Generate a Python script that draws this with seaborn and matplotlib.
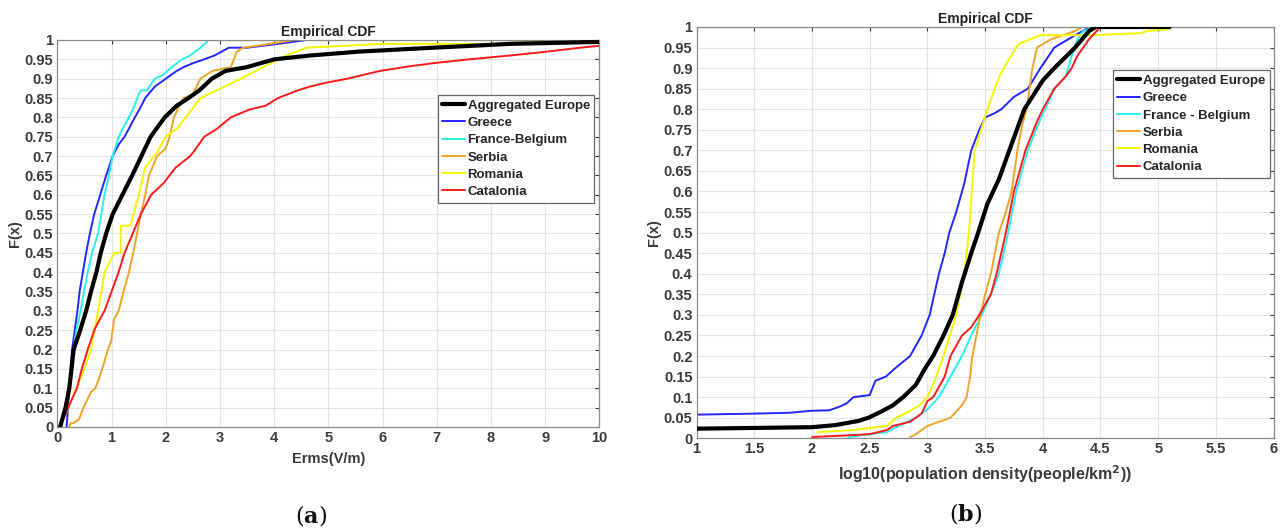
import matplotlib
matplotlib.use("Agg")
import matplotlib.pyplot as plt
import seaborn as sns
import pandas as pd

# ---- data ----
series_names = ["Aggregated Europe", "Greece", "France-Belgium", "Serbia", "Romania", "Catalonia"]
series_names_b = ["Aggregated Europe", "Greece", "France - Belgium", "Serbia", "Romania", "Catalonia"]
series_colors = ["#000000", "#2525ff", "#2af0f0", "#eda528", "#f5f500", "#ff1a1a"]
series_widths = [3.0, 1.4, 1.4, 1.4, 1.4, 1.4]

# panel (a): Erms (V/m)
erms_agg_x = [0.05, 0.15, 0.22, 0.3, 0.42, 0.53, 0.62, 0.72, 0.8, 0.9, 1.02, 1.2, 1.38, 1.55, 1.72, 1.98,
              2.2, 2.42, 2.62, 2.85, 3.1, 3.5, 4.0, 4.67, 5.57, 6.93, 8.36, 10.0]
erms_agg_F = [0, 0.05, 0.1, 0.2, 0.25, 0.3, 0.35, 0.4, 0.45, 0.5, 0.55, 0.6, 0.65, 0.7, 0.75, 0.8,
              0.83, 0.85, 0.87, 0.9, 0.92, 0.93, 0.95, 0.96, 0.97, 0.98, 0.99, 0.995]
erms_gr_x = [0.17, 0.22, 0.27, 0.32, 0.37, 0.41, 0.47, 0.53, 0.6, 0.68, 0.79, 0.9, 1.02, 1.13, 1.24, 1.43,
             1.55, 1.62, 1.8, 2.0, 2.2, 2.33, 2.5, 2.71, 2.9, 3.16, 3.5, 4.07, 4.6, 6.84]
erms_gr_F = [0, 0.1, 0.2, 0.25, 0.3, 0.35, 0.4, 0.45, 0.5, 0.55, 0.6, 0.65, 0.7, 0.73, 0.75, 0.8,
             0.83, 0.85, 0.88, 0.9, 0.92, 0.93, 0.94, 0.95, 0.96, 0.98, 0.98, 0.99, 1.0, 1.0]
erms_fb_x = [0.05, 0.15, 0.25, 0.35, 0.43, 0.49, 0.56, 0.64, 0.75, 0.81, 0.87, 0.95, 1.02, 1.13, 1.2, 1.32,
             1.42, 1.5, 1.54, 1.65, 1.8, 1.95, 2.11, 2.3, 2.45, 2.64, 2.79, 4.05]
erms_fb_F = [0, 0.05, 0.15, 0.25, 0.3, 0.35, 0.4, 0.45, 0.5, 0.55, 0.6, 0.65, 0.7, 0.75, 0.77, 0.8,
             0.83, 0.86, 0.87, 0.87, 0.9, 0.91, 0.93, 0.95, 0.96, 0.98, 1.0, 1.0]
erms_rs_x = [0.22, 0.25, 0.3, 0.4, 0.48, 0.55, 0.62, 0.7, 0.78, 0.85, 0.93, 0.99, 1.05, 1.13, 1.22, 1.32,
             1.4, 1.47, 1.54, 1.62, 1.69, 1.84, 2.0, 2.07, 2.15, 2.25, 2.33, 2.5, 2.64, 2.86, 3.2, 3.31,
             3.43, 3.92, 4.37]
erms_rs_F = [0, 0.01, 0.01, 0.02, 0.05, 0.07, 0.09, 0.1, 0.13, 0.16, 0.2, 0.22, 0.28, 0.3, 0.35, 0.4,
             0.45, 0.5, 0.55, 0.6, 0.65, 0.7, 0.72, 0.75, 0.8, 0.83, 0.85, 0.86, 0.9, 0.92, 0.93, 0.97,
             0.98, 0.99, 1.0]
erms_ro_x = [0.05, 0.2, 0.35, 0.5, 0.62, 0.75, 0.87, 1.05, 1.17, 1.17, 1.35, 1.5, 1.62, 1.84, 2.0, 2.2,
             2.37, 2.64, 3.09, 3.39, 3.8, 4.22, 4.6, 6.02, 8.0, 9.5, 10.0]
erms_ro_F = [0, 0.05, 0.1, 0.15, 0.2, 0.3, 0.4, 0.45, 0.45, 0.52, 0.52, 0.6, 0.67, 0.71, 0.75, 0.77,
             0.8, 0.85, 0.88, 0.9, 0.93, 0.96, 0.98, 0.99, 0.99, 1.0, 1.0]
erms_ca_x = [0.05, 0.2, 0.36, 0.45, 0.56, 0.68, 0.75, 0.87, 1.0, 1.13, 1.24, 1.39, 1.54, 1.73, 1.96, 2.18,
             2.45, 2.56, 2.71, 2.94, 3.2, 3.54, 3.84, 4.07, 4.44, 4.67, 4.97, 5.35, 5.95, 6.4, 6.93, 7.6,
             8.36, 9.04, 9.64, 10.0]
erms_ca_F = [0, 0.05, 0.1, 0.15, 0.2, 0.25, 0.27, 0.3, 0.35, 0.4, 0.45, 0.5, 0.55, 0.6, 0.63, 0.67,
             0.7, 0.72, 0.75, 0.77, 0.8, 0.82, 0.83, 0.85, 0.87, 0.88, 0.89, 0.9, 0.92, 0.93, 0.94, 0.95,
             0.96, 0.97, 0.98, 0.985]

# panel (b): log10 population density
pop_agg_x = [0.9, 2.0, 2.2, 2.4, 2.49, 2.6, 2.7, 2.79, 2.9, 2.98, 3.05, 3.14, 3.22, 3.3, 3.38, 3.44,
             3.52, 3.62, 3.71, 3.84, 4.0, 4.1, 4.28, 4.4, 4.46, 5.1]
pop_agg_F = [0.023, 0.027, 0.032, 0.042, 0.05, 0.065, 0.08, 0.1, 0.13, 0.17, 0.2, 0.25, 0.3, 0.38, 0.45, 0.5,
             0.57, 0.63, 0.7, 0.8, 0.87, 0.9, 0.95, 0.99, 1.0, 1.0]
pop_gr_x = [0.9, 1.5, 1.8, 2.0, 2.15, 2.25, 2.3, 2.36, 2.5, 2.55, 2.64, 2.72, 2.85, 2.95, 3.02, 3.1,
            3.15, 3.19, 3.25, 3.32, 3.38, 3.45, 3.5, 3.58, 3.64, 3.75, 3.87, 3.98, 4.1, 4.28, 4.41]
pop_gr_F = [0.057, 0.06, 0.062, 0.067, 0.068, 0.078, 0.085, 0.1, 0.105, 0.14, 0.15, 0.17, 0.2, 0.25, 0.3, 0.4,
            0.45, 0.5, 0.55, 0.62, 0.7, 0.75, 0.78, 0.79, 0.8, 0.83, 0.85, 0.9, 0.95, 0.98, 1.0]
pop_fb_x = [2.32, 2.5, 2.65, 2.75, 2.9, 3.0, 3.1, 3.2, 3.3, 3.38, 3.47, 3.55, 3.62, 3.7, 3.77, 3.82,
            3.87, 3.97, 4.02, 4.1, 4.2, 4.25, 4.3, 4.35, 4.45]
pop_fb_F = [0.003, 0.01, 0.015, 0.03, 0.05, 0.07, 0.1, 0.15, 0.2, 0.25, 0.3, 0.35, 0.4, 0.5, 0.6, 0.65,
            0.7, 0.77, 0.8, 0.85, 0.88, 0.93, 0.97, 0.99, 1.0]
pop_rs_x = [2.85, 2.9, 3.0, 3.1, 3.2, 3.3, 3.34, 3.37, 3.39, 3.46, 3.5, 3.55, 3.62, 3.68, 3.73, 3.78,
            3.82, 3.86, 3.91, 3.95, 4.07, 4.28, 4.34]
pop_rs_F = [0.003, 0.01, 0.03, 0.04, 0.05, 0.08, 0.1, 0.15, 0.2, 0.3, 0.35, 0.4, 0.5, 0.55, 0.6, 0.7,
            0.76, 0.8, 0.9, 0.95, 0.97, 0.99, 1.0]
pop_ro_x = [2.05, 2.36, 2.5, 2.65, 2.73, 2.84, 2.93, 3.0, 3.05, 3.14, 3.25, 3.32, 3.36, 3.41, 3.52, 3.61,
            3.66, 3.77, 3.8, 3.98, 4.43, 4.85, 4.9, 5.1]
pop_ro_F = [0.015, 0.02, 0.025, 0.03, 0.05, 0.065, 0.08, 0.1, 0.13, 0.2, 0.3, 0.4, 0.5, 0.7, 0.8, 0.87,
            0.9, 0.95, 0.96, 0.98, 0.98, 0.985, 0.99, 0.995]
pop_ca_x = [2.0, 2.15, 2.5, 2.65, 2.7, 2.85, 2.95, 3.0, 3.05, 3.15, 3.2, 3.3, 3.38, 3.45, 3.55, 3.6,
            3.68, 3.75, 3.8, 3.85, 3.95, 4.0, 4.1, 4.2, 4.25, 4.3, 4.4, 4.5]
pop_ca_F = [0.003, 0.005, 0.01, 0.02, 0.03, 0.04, 0.06, 0.09, 0.1, 0.15, 0.2, 0.25, 0.27, 0.3, 0.35, 0.4,
            0.5, 0.6, 0.65, 0.7, 0.77, 0.8, 0.85, 0.88, 0.9, 0.93, 0.97, 1.0]

erms_curves = [(erms_agg_x, erms_agg_F), (erms_gr_x, erms_gr_F), (erms_fb_x, erms_fb_F),
               (erms_rs_x, erms_rs_F), (erms_ro_x, erms_ro_F), (erms_ca_x, erms_ca_F)]
pop_curves = [(pop_agg_x, pop_agg_F), (pop_gr_x, pop_gr_F), (pop_fb_x, pop_fb_F),
              (pop_rs_x, pop_rs_F), (pop_ro_x, pop_ro_F), (pop_ca_x, pop_ca_F)]

y_ticks = [i * 0.05 for i in range(21)]
y_ticklabels = ["0", "0.05", "0.1", "0.15", "0.2", "0.25", "0.3", "0.35", "0.4", "0.45", "0.5",
                "0.55", "0.6", "0.65", "0.7", "0.75", "0.8", "0.85", "0.9", "0.95", "1"]

sns.set_style("white")
plt.rcParams['font.family'] = ['Liberation Sans', 'DejaVu Sans']
plt.rcParams['mathtext.fontset'] = 'dejavusans'
TXT = "#3a3a3a"

fig = plt.figure(figsize=(12.84, 5.31), dpi=100)
ax_a = fig.add_axes([0.0447, 0.1959, 0.4221, 0.7288])
ax_b = fig.add_axes([0.5425, 0.1746, 0.4494, 0.7746])


def draw_panel(ax, curves, names, xlim, xticks, xticklabels, xlabel, xlabel_size, legend_anchor):
    for (xs, fs), name, col, lw in zip(curves, names, series_colors, series_widths):
        df = pd.DataFrame({"x": xs, "F": fs})
        sns.lineplot(data=df, x="x", y="F", ax=ax, color=col, linewidth=lw, label=name,
                     sort=False, estimator=None, zorder=3 if lw > 2 else 2)
    ax.set_xlim(*xlim)
    ax.set_ylim(0, 1)
    ax.set_xticks(xticks)
    ax.set_xticklabels(xticklabels, fontsize=10.5, fontweight='bold', color=TXT)
    ax.set_yticks(y_ticks)
    ax.set_yticklabels(y_ticklabels, fontsize=10.5, fontweight='bold', color=TXT)
    ax.grid(True, color="#e3e3e3", linewidth=0.8)
    ax.set_axisbelow(True)
    ax.tick_params(direction='in', length=3, width=0.8, top=True, right=True, pad=3, colors=TXT)
    for s in ax.spines.values():
        s.set_color("#8a8a8a")
        s.set_linewidth(0.9)
    ax.set_xlabel(xlabel, fontsize=xlabel_size, fontweight='bold', color=TXT, labelpad=5)
    ax.set_ylabel("F(x)", fontsize=10.5, fontweight='bold', color=TXT, labelpad=2)
    ax.set_title("Empirical CDF", fontsize=10, fontweight='bold', color="#222222", pad=3)
    leg = ax.legend(loc="upper right", bbox_to_anchor=legend_anchor,
                    prop={'weight': 'bold', 'size': 9.5}, handlelength=1.7, handletextpad=0.2,
                    labelspacing=0.38, borderpad=0.35, borderaxespad=0, fancybox=False,
                    framealpha=1)
    leg.get_frame().set_edgecolor("#666666")
    leg.get_frame().set_linewidth(0.9)
    for t in leg.get_texts():
        t.set_color("#262626")


draw_panel(ax_a, erms_curves, series_names, (0, 10), list(range(11)),
           [str(i) for i in range(11)], "Erms(V/m)", 10.5, (0.991, 0.858))
draw_panel(ax_b, pop_curves, series_names_b, (1, 6),
           [1, 1.5, 2, 2.5, 3, 3.5, 4, 4.5, 5, 5.5, 6],
           ["1", "1.5", "2", "2.5", "3", "3.5", "4", "4.5", "5", "5.5", "6"],
           r"log10(population density(people/km$^{\mathbf{2}}$))", 11.5, (0.993, 0.895))

# panel captions
fig.text(0.2425, 0.03, r"($\mathbf{a}$)", ha='center', va='center', fontsize=16,
         family='DejaVu Serif', math_fontfamily='dejavuserif', color="#111111")
fig.text(0.752, 0.033, r"($\mathbf{b}$)", ha='center', va='center', fontsize=16,
         family='DejaVu Serif', math_fontfamily='dejavuserif', color="#111111")

fig.savefig("out.png", dpi=100)
